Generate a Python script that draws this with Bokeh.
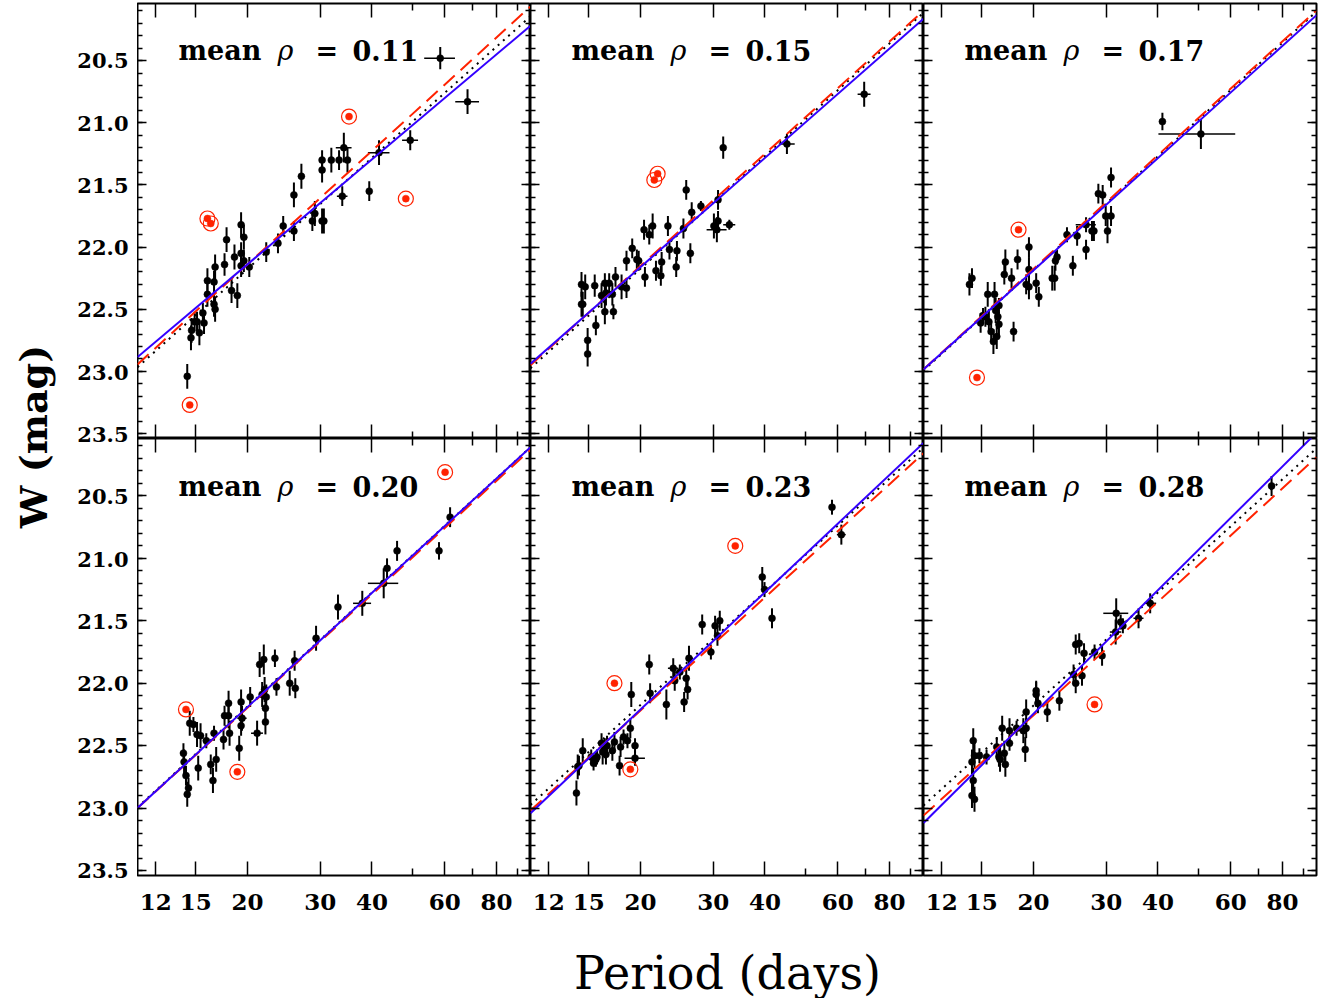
import numpy as np
from bokeh.plotting import figure
from bokeh.layouts import row, column
from bokeh.models import (Range1d, LogAxis, LinearAxis, FixedTicker, PrintfTickFormatter, Label,
                          CustomJSTickFormatter)
from bokeh.embed import file_html
from bokeh.resources import INLINE

# ---------------- data ----------------
rho_labels = ["0.11", "0.15", "0.17", "0.20", "0.23", "0.28"]

period_a = [14.3, 14.6, 14.65, 14.9, 15.1, 15.3, 15.6, 15.7, 16.0, 16.0, 16.6, 16.7, 16.6, 16.7, 17.6,
            17.8, 18.3, 18.6, 18.9, 19.3, 19.6, 19.3, 19.3, 19.6, 20.2, 22.2, 23.7, 24.4, 25.9, 25.9,
            27.0, 28.7, 29.1, 30.3, 30.6, 30.3, 30.3, 31.9, 33.3, 34.2, 34.9, 33.9, 39.4, 41.6, 49.5,
            58.5, 68.1]
wmag_a = [23.04, 22.73, 22.67, 22.60, 22.60, 22.69, 22.53, 22.61, 22.27, 22.38, 22.46, 22.50, 22.28, 22.16, 22.14,
          21.94, 22.35, 22.08, 22.39, 21.82, 21.92, 22.05, 22.15, 22.11, 22.16, 22.04, 21.97, 21.83, 21.87, 21.58,
          21.43, 21.79, 21.73, 21.79, 21.79, 21.38, 21.30, 21.30, 21.30, 21.20, 21.30, 21.59, 21.55, 21.24, 21.14,
          20.48, 20.83]
werr_a = [0.1, 0.1, 0.1, 0.08, 0.08, 0.1, 0.08, 0.09, 0.1, 0.1, 0.1, 0.1, 0.09, 0.1, 0.09,
          0.1, 0.1, 0.1, 0.1, 0.1, 0.1, 0.09, 0.09, 0.09, 0.08, 0.08, 0.08, 0.08, 0.08, 0.1,
          0.1, 0.08, 0.1, 0.1, 0.1, 0.1, 0.08, 0.1, 0.08, 0.12, 0.1, 0.08, 0.08, 0.1, 0.08,
          0.09, 0.1]
perr_a = [0, 0, 0, 0, 0, 0, 0, 0, 0, 0, 0, 0, 0, 0, 0,
          0, 0, 0, 0, 0, 0, 0, 0, 0, 0, 0, 0, 0, 0, 0,
          0, 0, 0, 0, 0, 0, 0, 0, 0, 1.5, 0, 1.0, 0, 2.5, 2.2,
          5.0, 4.5]
out_period_a = [14.5, 16.0, 16.3, 35.2, 48.3]
out_wmag_a = [23.27, 21.77, 21.81, 20.95, 21.61]

period_b = [14.4, 14.4, 14.5, 14.7, 14.9, 14.9, 15.5, 15.6, 16.1, 16.4, 16.4, 16.5, 16.8, 17.1, 17.2,
            17.4, 18.0, 18.5, 18.5, 19.1, 19.6, 19.8, 20.5, 20.4, 21.0, 21.4, 21.8, 22.4, 22.5, 23.3,
            23.5, 24.4, 24.5, 25.4, 25.8, 26.4, 26.6, 28.0, 30.1, 30.6, 30.8, 30.8, 32.8, 31.7, 45.2,
            69.5]
wmag_b = [22.30, 22.46, 22.46, 22.32, 22.75, 22.86, 22.31, 22.63, 22.39, 22.52, 22.29, 22.37, 22.29, 22.38, 22.52,
          22.24, 22.32, 22.33, 22.11, 22.01, 22.10, 22.11, 22.24, 21.86, 21.90, 21.83, 22.19, 22.23, 22.12, 21.83,
          22.02, 22.16, 22.03, 21.85, 21.54, 22.05, 21.72, 21.67, 21.83, 21.86, 21.79, 21.62, 21.82, 21.20, 21.17,
          20.77]
werr_b = [0.1, 0.1, 0.1, 0.1, 0.1, 0.1, 0.09, 0.08, 0.1, 0.1, 0.08, 0.1, 0.08, 0.09, 0.06,
          0.08, 0.1, 0.08, 0.08, 0.08, 0.08, 0.08, 0.08, 0.08, 0.08, 0.1, 0.08, 0.08, 0.08, 0.08,
          0.08, 0.08, 0.08, 0.08, 0.08, 0.08, 0.08, 0.04, 0.1, 0.1, 0.08, 0.08, 0.04, 0.09, 0.08,
          0.1]
perr_b = [0, 0, 0, 0, 0, 0, 0, 0, 0, 0, 0, 0, 0, 0, 0,
          0, 0, 0, 0, 0, 0, 0, 0, 0, 0, 0, 0, 0, 0, 0,
          0, 0, 0, 0, 0, 0, 0, 0, 0, 1.7, 0, 0, 1.1, 0, 2.0,
          2.5]
out_period_b = [21.6, 22.0]
out_wmag_b = [21.46, 21.41]

period_c = [14.0, 14.2, 14.9, 15.1, 15.3, 15.5, 15.6, 15.8, 16.0, 16.1, 16.2, 16.3, 16.4, 16.5, 16.5,
            17.0, 17.1, 17.7, 17.9, 18.3, 19.2, 19.5, 19.5, 19.5, 20.3, 20.6, 22.2, 22.5, 22.6, 22.8,
            24.1, 24.9, 25.5, 26.8, 26.8, 27.7, 28.0, 28.7, 29.4, 29.9, 30.2, 30.8, 30.8, 41.0, 50.8]
wmag_c = [22.30, 22.25, 22.61, 22.55, 22.56, 22.38, 22.60, 22.68, 22.76, 22.38, 22.51, 22.72, 22.56, 22.62, 22.47,
          22.22, 22.12, 22.25, 22.68, 22.10, 22.30, 22.00, 22.18, 22.32, 22.29, 22.40, 22.25, 22.25, 22.11, 22.08,
          21.90, 22.15, 21.91, 22.02, 21.82, 21.87, 21.87, 21.57, 21.58, 21.75, 21.87, 21.75, 21.44, 20.99, 21.09]
werr_c = [0.09, 0.08, 0.08, 0.06, 0.08, 0.1, 0.1, 0.08, 0.1, 0.1, 0.1, 0.1, 0.1, 0.1, 0.06,
          0.08, 0.1, 0.08, 0.08, 0.08, 0.08, 0.08, 0.1, 0.1, 0.08, 0.08, 0.1, 0.1, 0.08, 0.06,
          0.06, 0.08, 0.08, 0.08, 0.06, 0.08, 0.08, 0.08, 0.08, 0.08, 0.1, 0.08, 0.08, 0.07, 0.12]
perr_c = [0, 0, 0, 0, 0, 0, 0, 0, 0, 0, 0, 0, 0, 0, 0,
          0, 0, 0, 0, 0, 0, 0, 0, 0, 0, 0, 0, 0, 0, 0,
          0, 0, 0, 0, 1.5, 0, 0, 0, 0, 0, 0, 0, 0, 0.4, 10.7]
out_period_c = [14.6, 18.4]
out_wmag_c = [23.05, 21.86]

period_d = [14.0, 14.05, 14.2, 14.3, 14.4, 14.5, 14.8, 15.1, 15.2, 15.4, 15.9, 16.3, 16.5, 16.6, 16.8,
            17.5, 17.6, 18.0, 18.0, 18.1, 19.1, 19.3, 19.3, 19.4, 20.3, 21.1, 21.4, 21.7, 21.9, 22.0,
            22.1, 22.1, 22.2, 23.3, 23.5, 25.3, 26.0, 26.1, 29.3, 33.1, 37.9, 42.7, 43.5, 46.0, 58.1,
            61.8]
wmag_d = [22.56, 22.63, 22.74, 22.89, 22.84, 22.32, 22.33, 22.41, 22.68, 22.42, 22.46, 22.65, 22.78, 22.40, 22.61,
          22.45, 22.26, 22.26, 22.16, 22.40, 22.52, 22.34, 22.15, 22.28, 22.11, 22.40, 21.85, 22.09, 21.81, 22.05,
          22.20, 22.31, 22.11, 21.80, 22.03, 22.00, 21.82, 22.04, 21.64, 21.39, 21.36, 21.20, 21.08, 20.94, 20.94,
          20.67]
werr_d = [0.08, 0.1, 0.08, 0.1, 0.08, 0.1, 0.06, 0.1, 0.1, 0.1, 0.06, 0.08, 0.1, 0.06, 0.1,
          0.08, 0.08, 0.1, 0.1, 0.1, 0.1, 0.08, 0.1, 0.1, 0.08, 0.1, 0.1, 0.1, 0.12, 0.1,
          0.1, 0.1, 0.1, 0.07, 0.07, 0.1, 0.08, 0.08, 0.1, 0.1, 0.1, 0.12, 0.08, 0.08, 0.07,
          0.08]
perr_d = [0, 0, 0, 0, 0, 0, 0, 0, 0, 0, 0, 0, 0, 0, 0,
          0, 0, 0, 0, 0, 0, 0, 0, 0.5, 0, 0.7, 0, 0, 0, 0,
          0, 0, 0, 0, 0, 0, 0, 0, 0, 0, 1.9, 3.6, 0, 0, 0,
          0.8]
out_period_d = [14.2, 18.9, 60.1]
out_wmag_d = [22.21, 22.71, 20.31]

period_e = [14.0, 14.1, 14.2, 14.5, 15.2, 15.4, 15.6, 15.7, 16.1, 16.2, 16.4, 16.5, 16.6, 17.1, 17.3,
            17.8, 17.9, 18.2, 18.6, 18.9, 19.0, 19.4, 19.4, 21.0, 21.1, 23.1, 24.0, 24.2, 24.9, 25.5,
            25.8, 26.0, 26.2, 28.2, 29.6, 30.3, 30.7, 31.1, 39.4, 39.9, 41.6, 58.1, 61.2]
wmag_e = [22.88, 22.67, 22.66, 22.54, 22.59, 22.64, 22.61, 22.59, 22.48, 22.55, 22.52, 22.57, 22.50, 22.54, 22.47,
          22.66, 22.51, 22.43, 22.46, 22.36, 22.09, 22.50, 22.60, 21.85, 22.08, 22.17, 21.88, 21.98, 21.91, 22.15,
          21.96, 22.05, 21.80, 21.53, 21.75, 21.54, 21.62, 21.50, 21.15, 21.25, 21.48, 20.59, 20.81]
werr_e = [0.1, 0.1, 0.08, 0.1, 0.06, 0.06, 0.06, 0.06, 0.08, 0.1, 0.08, 0.08, 0.08, 0.08, 0.08,
          0.08, 0.08, 0.06, 0.06, 0.08, 0.1, 0.06, 0.06, 0.08, 0.08, 0.12, 0.08, 0.08, 0.06, 0.08,
          0.08, 0.08, 0.1, 0.08, 0.06, 0.08, 0.08, 0.08, 0.08, 0.06, 0.08, 0.06, 0.08]
perr_e = [0, 0, 0, 0, 0, 0, 0, 0, 0, 0, 0, 0, 0, 0, 0,
          0, 0, 0, 0, 0, 0, 0, 1.1, 0, 0, 0, 0.7, 0, 0, 0,
          0, 0, 0, 0, 0, 0, 0, 0, 0, 0, 0, 0.5, 1.5]
out_period_e = [17.3, 18.9, 33.9]
out_wmag_e = [22.00, 22.69, 20.90]

period_f = [14.2, 14.2, 14.3, 14.4, 14.3, 14.4, 14.8, 15.4, 16.3, 16.5, 16.6, 16.8, 17.0, 17.1, 17.5,
            17.5, 18.2, 18.9, 19.1, 19.2, 19.2, 20.3, 20.3, 20.5, 21.6, 23.1, 25.0, 25.3, 26.2, 25.3,
            25.8, 26.5, 28.1, 29.3, 31.6, 31.7, 32.5, 32.9, 35.9, 38.3, 75.3]
wmag_f = [22.63, 22.90, 22.46, 22.58, 22.78, 22.93, 22.58, 22.59, 22.51, 22.59, 22.61, 22.36, 22.56, 22.65, 22.38,
          22.48, 22.36, 22.38, 22.53, 22.36, 22.23, 22.09, 22.06, 22.16, 22.23, 22.14, 21.93, 22.00, 21.94, 21.69,
          21.68, 21.76, 21.75, 21.78, 21.59, 21.44, 21.51, 21.54, 21.48, 21.36, 20.42]
werr_f = [0.1, 0.1, 0.1, 0.1, 0.1, 0.1, 0.06, 0.06, 0.08, 0.08, 0.1, 0.1, 0.1, 0.1, 0.1,
          0.06, 0.06, 0.1, 0.1, 0.08, 0.1, 0.1, 0.08, 0.08, 0.08, 0.08, 0.08, 0.08, 0.08, 0.08,
          0.08, 0.08, 0.06, 0.08, 0.1, 0.12, 0.06, 0.06, 0.08, 0.08, 0.08]
perr_f = [0, 0, 0, 0, 0, 0, 0, 0, 0, 0, 0, 0, 0, 0, 0,
          0, 0, 0.5, 0, 0, 0, 0, 0, 0, 0, 0, 0, 0, 0, 0,
          0, 0, 0, 0, 1.0, 2.2, 0.8, 0, 1.0, 1.3, 1.0]
out_period_f = [28.1]
out_wmag_f = [22.17]

# PL relations  W = zp + slope * (log10 P - 1)
blue_zp = [22.983, 23.04, 23.09, 23.106, 23.15, 23.235]
blue_slope = [-2.805, -2.92, -3.00, -3.04, -3.12, -3.29]
red_zp = [23.05, 23.055, 23.09, 23.106, 23.125, 23.166]
red_slope = [-3.03, -3.00, -3.04, -3.02, -3.01, -3.02]
dot_zp = [23.07, 23.08, 23.10, 23.10, 23.08, 23.085]
dot_slope = [-2.97, -3.01, -3.04, -3.035, -3.01, -3.01]

x_ticks = [12, 15, 20, 30, 40, 60, 80]
x_minor = [50, 70, 90]
y_ticks = [20.5, 21.0, 21.5, 22.0, 22.5, 23.0, 23.5]

X_RANGE = (10.84, 96.7)
Y_TOP, Y_BOT = 20.04, 23.54
Y_SPAN = Y_BOT - Y_TOP

panels = [
    (period_a, wmag_a, werr_a, perr_a, out_period_a, out_wmag_a),
    (period_b, wmag_b, werr_b, perr_b, out_period_b, out_wmag_b),
    (period_c, wmag_c, werr_c, perr_c, out_period_c, out_wmag_c),
    (period_d, wmag_d, werr_d, perr_d, out_period_d, out_wmag_d),
    (period_e, wmag_e, werr_e, perr_e, out_period_e, out_wmag_e),
    (period_f, wmag_f, werr_f, perr_f, out_period_f, out_wmag_f),
]

SERIF = "DejaVu Serif"
RED = "#ff2200"
BLUE = "#3300ff"
FRAME_W = 393
TOP_FH = 435
BOT_FH = 437
TOP_B = 3
BOT_B = 48


def style_axis(ax, major_len, minor_len, show):
    ax.axis_line_color = None
    ax.major_tick_in = major_len
    ax.major_tick_out = 0
    ax.minor_tick_in = minor_len
    ax.minor_tick_out = 0
    ax.major_tick_line_color = "black"
    ax.minor_tick_line_color = "black"
    ax.major_tick_line_width = 1.5
    ax.minor_tick_line_width = 1.5
    if show:
        ax.major_label_text_font = SERIF
        ax.major_label_text_font_style = "bold"
        ax.major_label_text_color = "black"
    else:
        ax.major_label_text_color = None
        ax.major_label_standoff = 0


def make_panel(i):
    P, W, eW, eP, oP, oW = panels[i]
    top = i < 3
    right = i % 3 == 2
    br = 17 if right else 0
    bt = TOP_B if top else 0
    bb = 0 if top else BOT_B
    fh = TOP_FH if top else BOT_FH
    p = figure(width=FRAME_W + br, height=bt + fh + bb,
               x_axis_type="log", x_range=Range1d(*X_RANGE), y_range=Range1d(Y_BOT, Y_TOP),
               x_axis_location=None, y_axis_location=None,
               output_backend="svg", toolbar_location=None,
               min_border=0, min_border_left=0, min_border_right=br,
               min_border_top=bt, min_border_bottom=bb)
    p.grid.grid_line_color = None
    p.outline_line_color = "black"
    p.outline_line_width = 2
    p.background_fill_color = "white"
    p.border_fill_color = "white"

    yminor = [round(20.1 + 0.1 * k, 1) for k in range(35)]
    for side in ("below", "above"):
        ax = LogAxis(ticker=FixedTicker(ticks=x_ticks, minor_ticks=x_minor),
                     formatter=PrintfTickFormatter(format="%d"))
        show = (side == "below" and not top)
        style_axis(ax, 14, 7, show)
        if show:
            ax.major_label_text_font_size = "23px"
            ax.major_label_standoff = 18
        p.add_layout(ax, side)
    for side in ("left", "right"):
        ax = LinearAxis(ticker=FixedTicker(ticks=y_ticks, minor_ticks=yminor))
        style_axis(ax, 9, 5, False)
        p.add_layout(ax, side)

    P = np.array(P, dtype=float)
    W = np.array(W, dtype=float)
    eW = np.array(eW, dtype=float)
    eP = np.array(eP, dtype=float)
    # error bars
    p.segment(x0=P, y0=W - eW, x1=P, y1=W + eW, line_color="black", line_width=2)
    has = eP > 0
    p.segment(x0=(P - eP)[has], y0=W[has], x1=(P + eP)[has], y1=W[has],
              line_color="black", line_width=1.5)
    p.scatter(P, W, size=7, fill_color="black", line_color="black", line_width=0.5)
    # rejected points
    p.scatter(oP, oW, size=15, fill_color=None, line_color=RED, line_width=1.2)
    p.scatter(oP, oW, size=7, fill_color=RED, line_color=RED, line_width=0.5)

    # relations
    xs = np.array(X_RANGE)
    lx = np.log10(xs) - 1.0
    p.line(xs, dot_zp[i] + dot_slope[i] * lx, line_color="black", line_width=2, line_dash="2 5")
    p.line(xs, red_zp[i] + red_slope[i] * lx, line_color=RED, line_width=2, line_dash="15 8")
    p.line(xs, blue_zp[i] + blue_slope[i] * lx, line_color=BLUE, line_width=2)

    base_y = fh - 47 if top else fh - 48
    parts = [("mean", 41, "bold"), ("ρ", 140, "italic"), ("=", 178, "bold"), (rho_labels[i], 215, "bold")]
    for txt, xo, style in parts:
        p.add_layout(Label(x=xo, y=base_y, x_units="screen", y_units="screen", text=txt,
                           text_font=SERIF, text_font_style=style, text_font_size="27px",
                           text_color="black", text_baseline="alphabetic", text_align="left"))
    return p


figs = [make_panel(i) for i in range(6)]

GRID_H = TOP_B + TOP_FH + BOT_FH + BOT_B
FRAME_H = TOP_FH + BOT_FH

# y tick labels for both rows: one axis on a gutter figure spanning both rows
GUT_W = 77
row_u_ticks = [w - Y_TOP for w in y_ticks] + [w - Y_TOP + Y_SPAN for w in y_ticks]
gut = figure(width=GUT_W, height=GRID_H, x_range=Range1d(0, 1),
             y_range=Range1d(2 * Y_SPAN, 0.0),
             x_axis_location=None, y_axis_location=None, output_backend="svg",
             toolbar_location=None, min_border=0, min_border_left=GUT_W - 1, min_border_right=0,
             min_border_top=TOP_B, min_border_bottom=BOT_B)
gut.grid.grid_line_color = None
gut.outline_line_color = None
gax = LinearAxis(ticker=FixedTicker(ticks=row_u_ticks, minor_ticks=[]),
                 formatter=CustomJSTickFormatter(
                     args=dict(top=Y_TOP, span=Y_SPAN),
                     code="const u = tick >= span ? tick - span : tick; return (u + top).toFixed(1);"))
gax.axis_line_color = None
gax.major_tick_in = 0
gax.major_tick_out = 0
gax.minor_tick_in = 0
gax.minor_tick_out = 0
gax.major_label_text_font = SERIF
gax.major_label_text_font_style = "bold"
gax.major_label_text_font_size = "21px"
gax.major_label_text_color = "black"
gax.major_label_standoff = 8
gut.add_layout(gax, "left")

WL_W = 60
ylab = figure(width=WL_W, height=GRID_H, x_range=Range1d(0, 1), y_range=Range1d(0, 1),
              x_axis_location=None, y_axis_location=None, output_backend="svg",
              toolbar_location=None, min_border=0, min_border_top=TOP_B, min_border_bottom=BOT_B)
ylab.grid.grid_line_color = None
ylab.outline_line_color = None
# label centred at 436 px from the page top; frame spans TOP_B .. TOP_B + FRAME_H
ylab.add_layout(Label(x=33, y=TOP_B + FRAME_H - 436, x_units="screen", y_units="screen", text="W (mag)",
                      angle=np.pi / 2, text_font=SERIF, text_font_style="bold", text_color="black",
                      text_font_size="38px", text_align="center", text_baseline="middle"))

XL_H = 998 - GRID_H
xlab = figure(width=1333, height=XL_H, x_range=Range1d(0, 1), y_range=Range1d(0, 1),
              x_axis_location=None, y_axis_location=None, output_backend="svg",
              toolbar_location=None, min_border=0)
xlab.grid.grid_line_color = None
xlab.outline_line_color = None
xlab.add_layout(Label(x=727, y=XL_H - 49, x_units="screen", y_units="screen", text="Period (days)",
                      text_font=SERIF, text_font_size="46px", text_align="center", text_color="black",
                      text_baseline="middle"))

grid = column(row(figs[0], figs[1], figs[2], spacing=0), row(figs[3], figs[4], figs[5], spacing=0), spacing=0)
layout = column(row(ylab, gut, grid, spacing=0), xlab, spacing=0)

open("out.html", "w").write(file_html(layout, INLINE))
